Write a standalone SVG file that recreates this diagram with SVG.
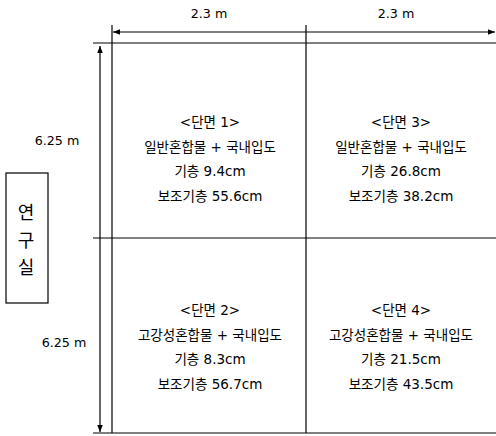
<svg xmlns="http://www.w3.org/2000/svg" width="496" height="436" viewBox="0 0 496 436">
<style>
.ln{stroke:#000;stroke-width:1.2;fill:none}
.t{font-family:"DejaVu Sans","Noto Sans CJK KR",sans-serif;font-size:13.5px;fill:#000;text-anchor:middle;dominant-baseline:central}
.d{font-family:"DejaVu Sans","Noto Sans CJK KR",sans-serif;font-size:12.7px;fill:#000;text-anchor:middle;dominant-baseline:central}
.r{font-family:"Noto Sans CJK KR",sans-serif;font-size:18px;fill:#000;text-anchor:middle;dominant-baseline:central}
</style>
<defs>
<marker id="ah" viewBox="0 0 10 10" refX="10" refY="5" markerWidth="7" markerHeight="7" orient="auto-start-reverse" markerUnits="userSpaceOnUse">
<path d="M0,1 L10,5 L0,9 z" fill="#000"/>
</marker>
</defs>
<rect width="496" height="436" fill="#fff"/>
<g id="connectors">
<line class="ln" x1="113" y1="32" x2="495" y2="32" marker-start="url(#ah)" marker-end="url(#ah)"/>
<line class="ln" x1="100" y1="46" x2="100" y2="432" marker-start="url(#ah)" marker-end="url(#ah)"/>
<line class="ln" x1="93" y1="43" x2="496" y2="43"/>
<line class="ln" x1="93" y1="238" x2="496" y2="238"/>
<line class="ln" x1="93" y1="433" x2="496" y2="433"/>
<line class="ln" x1="112" y1="25" x2="112" y2="433"/>
<line class="ln" x1="306" y1="25" x2="306" y2="433"/>
</g>
<g id="dims">
<text class="d" x="209" y="13">2.3 m</text>
<text class="d" x="396" y="13">2.3 m</text>
<text class="d" x="57" y="140">6.25 m</text>
<text class="d" x="64" y="342">6.25 m</text>
</g>
<g id="lab">
<rect x="6" y="173" width="42" height="130" fill="#fff" stroke="#000" stroke-width="1.2"/>
<text class="r" x="26" y="211">연</text>
<text class="r" x="26" y="239">구</text>
<text class="r" x="26" y="266">실</text>
</g>
<g id="cell1">
<text class="t" x="210" y="122">&lt;단면 1&gt;</text>
<text class="t" x="210" y="147">일반혼합물 + 국내입도</text>
<text class="t" x="210" y="171">기층 9.4cm</text>
<text class="t" x="210" y="196">보조기층 55.6cm</text>
</g>
<g id="cell3">
<text class="t" x="401" y="122">&lt;단면 3&gt;</text>
<text class="t" x="401" y="147">일반혼합물 + 국내입도</text>
<text class="t" x="401" y="171">기층 26.8cm</text>
<text class="t" x="401" y="196">보조기층 38.2cm</text>
</g>
<g id="cell2">
<text class="t" x="210" y="310">&lt;단면 2&gt;</text>
<text class="t" x="210" y="335">고강성혼합물 + 국내입도</text>
<text class="t" x="210" y="359">기층 8.3cm</text>
<text class="t" x="210" y="384">보조기층 56.7cm</text>
</g>
<g id="cell4">
<text class="t" x="401" y="310">&lt;단면 4&gt;</text>
<text class="t" x="401" y="335">고강성혼합물 + 국내입도</text>
<text class="t" x="401" y="359">기층 21.5cm</text>
<text class="t" x="401" y="384">보조기층 43.5cm</text>
</g>
</svg>
